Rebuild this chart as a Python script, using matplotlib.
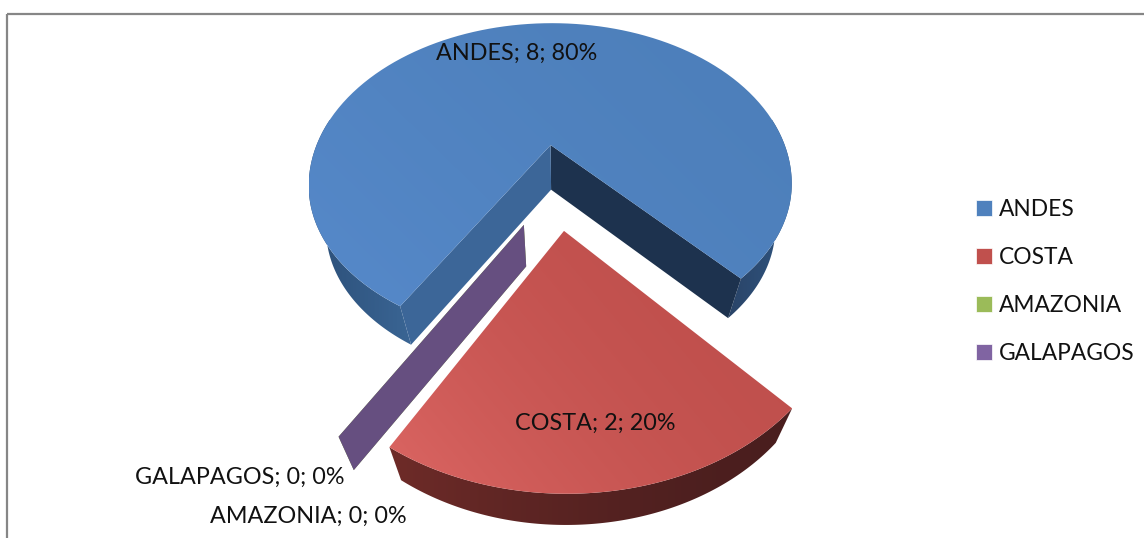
import numpy as np
import matplotlib
matplotlib.use("Agg")
import matplotlib.pyplot as plt
from matplotlib.colors import LinearSegmentedColormap
from matplotlib.patches import Patch, Polygon, Rectangle

plt.rcParams["font.family"] = ["Lato", "DejaVu Sans"]

categories = ["ANDES", "COSTA", "AMAZONIA", "GALAPAGOS"]
values = [8, 2, 0, 0]
legend_colors = ["#4f81bd", "#c0504d", "#9bbb59", "#8064a2"]
explode = [0.26, 0.25, 0.25, 0.25]

# view of the tilted pie, all in pixels of the picture
CX, CY = 557, 187
RADIUS = 250
TILT = 0.66
PERSP = 0.263
FAR_STRETCH = 1.05
START = 210
DEPTH = 43


def project(u, v, bottom=False):
    w = 1 - PERSP * v
    x = RADIUS * u / w
    y = RADIUS * TILT * v / w
    y = np.where(v < 0, y * FAR_STRETCH, y)
    if bottom:
        return CX + x / 1.075, CY + y / 1.04 + DEPTH
    return CX + x, CY + y


def arc(mid, ex, t0, t1, bottom=False, n=120):
    # points of a slice rim, angles clockwise from twelve o'clock
    du, dv = ex * np.sin(np.radians(mid)), -ex * np.cos(np.radians(mid))
    t = np.radians(np.linspace(t0, t1, n))
    x, y = project(du + np.sin(t), dv - np.cos(t), bottom)
    return np.column_stack([x, y])


def apex(mid, ex, bottom=False):
    du, dv = ex * np.sin(np.radians(mid)), -ex * np.cos(np.radians(mid))
    x, y = project(du, dv, bottom)
    return np.array([[x, y]])


def fill(ax, pts, c0, c1, direction, z, gamma=1.0):
    # polygon with a linear gradient, direction is (dx, dy) in pixels
    patch = Polygon(pts, closed=True, facecolor="none", edgecolor="none", zorder=z)
    ax.add_patch(patch)
    x0, y0 = pts.min(axis=0)
    x1, y1 = pts.max(axis=0)
    xx, yy = np.meshgrid(np.linspace(0, 1, 64), np.linspace(0, 1, 64))
    g = xx * direction[0] + yy * direction[1]
    g = ((g - g.min()) / (g.max() - g.min())) ** gamma
    cmap = LinearSegmentedColormap.from_list("g", [c0, c1])
    im = ax.imshow(g, extent=(x0, x1, y1, y0), cmap=cmap, aspect="auto", zorder=z,
                   interpolation="bilinear")
    im.set_clip_path(patch)


fig = plt.figure(figsize=(11.44, 5.38), dpi=100)
ax = fig.add_axes([0, 0, 1, 1])

ax.add_patch(Rectangle((6.5, 13.5), 1200, 600, fill=False, edgecolor="#868686", linewidth=1.6))

total = sum(values)
edges = START + np.cumsum([0] + values) * 360 / total
a0, a1 = edges[0], edges[1]
b0, b1 = edges[1], edges[2]
zero_angle = edges[3]
a_mid = (a0 + a1) / 2
b_mid = (b0 + b1) / 2
ea, eb, ez = explode[0], explode[1], explode[3]

# ANDES walls, only the part of the rim facing the viewer
for t0, t1 in [(a0, 280), (440, a1)]:
    pts = np.vstack([arc(a_mid, ea, t0, t1), arc(a_mid, ea, t0, t1, True)[::-1]])
    if t0 == a0:
        fill(ax, pts, "#3a6594", "#2c4f78", (-1, 0), 1)
    else:
        fill(ax, pts, "#2a4468", "#2f5580", (1, 0), 1)

# inner cut faces of ANDES
top_a, bot_a = apex(a_mid, ea), apex(a_mid, ea, True)
left_top = arc(a_mid, ea, a0, a0, n=1)
left_bot = arc(a_mid, ea, a0, a0, True, n=1)
right_top = arc(a_mid, ea, a1, a1, n=1)
right_bot = arc(a_mid, ea, a1, a1, True, n=1)
ax.add_patch(Polygon(np.vstack([top_a, right_top, right_bot, bot_a]), facecolor="#1d324e", zorder=2))
ax.add_patch(Polygon(np.vstack([top_a, left_top, left_bot, bot_a]), facecolor="#3c6698", zorder=3))

# ANDES top
fill(ax, np.vstack([top_a, arc(a_mid, ea, a0, a1)]), "#4d7fba", "#5689ca", (-1, 0.6), 4, gamma=1.5)

# the two empty slices are only a cut face, GALAPAGOS covers AMAZONIA
for color, z in [("#76923c", 5), ("#664f80", 6)]:
    quad = np.vstack([apex(zero_angle, ez), arc(zero_angle, ez, zero_angle, zero_angle, n=1),
                      arc(zero_angle, ez, zero_angle, zero_angle, True, n=1), apex(zero_angle, ez, True)])
    ax.add_patch(Polygon(quad, facecolor=color, zorder=z))

# COSTA
wall = np.vstack([arc(b_mid, eb, b0, b1), arc(b_mid, eb, b0, b1, True)[::-1]])
fill(ax, wall, "#4a1e1e", "#6e2b28", (-1, 0), 7, gamma=1.5)
fill(ax, np.vstack([apex(b_mid, eb), arc(b_mid, eb, b0, b1)]), "#bf4f4c", "#dc6663", (-1, 0.55), 8, gamma=2.2)

# data labels
label_xy = [(517, 53), (595, 423), (308, 516), (240, 477)]
for cat, val, (x, y) in zip(categories, values, label_xy):
    ax.text(x, y, f"{cat}; {val}; {round(100 * val / total)}%", ha="center", va="center",
            fontsize=16.8, color="#111111", zorder=10)

handles = [Patch(facecolor=c, edgecolor="white", linewidth=0.5) for c in legend_colors]
ax.legend(handles, categories, loc="upper left", bbox_to_anchor=(976, 199),
          bbox_transform=ax.transData, frameon=False, fontsize=16.4, handlelength=0.7,
          handleheight=0.7, handletextpad=0.3, labelspacing=1.19, labelcolor="#111111",
          borderpad=0, borderaxespad=0)

ax.set_xlim(0, 1144)
ax.set_ylim(538, 0)
ax.axis("off")
fig.savefig("out.png", dpi=100)
